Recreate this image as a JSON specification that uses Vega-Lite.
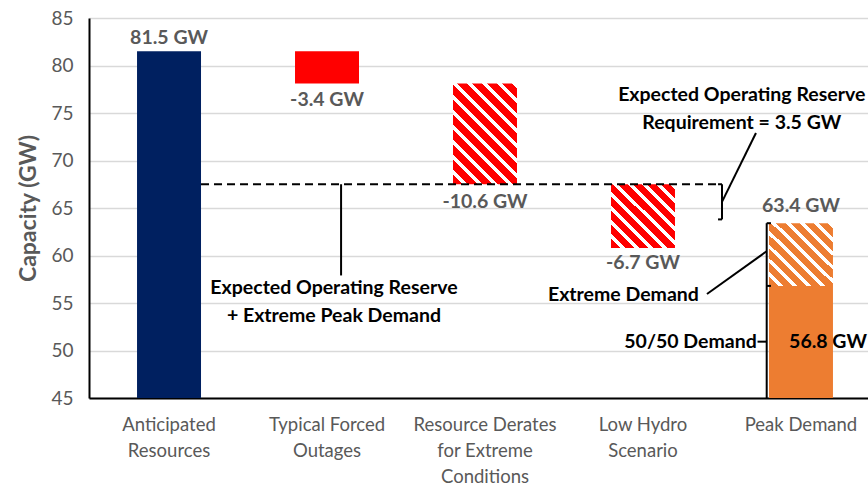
{
  "$schema": "https://vega.github.io/schema/vega-lite/v6.json",
  "width": 779,
  "height": 380,
  "autosize": {"type": "none"},
  "padding": {"left": 89, "top": 18, "right": 0, "bottom": 89},
  "background": "white",
  "config": {
    "view": {"stroke": null},
    "font": "Lato",
    "axis": {"labelFont": "Lato", "titleFont": "Lato"}
  },
  "datasets": {
    "bars": [
      {"cat": "Anticipated Resources", "series": "Anticipated resources", "lo": 45, "hi": 81.5},
      {"cat": "Typical Forced Outages", "series": "Typical forced outages", "lo": 78.1, "hi": 81.5},
      {"cat": "Resource Derates for Extreme Conditions", "series": "Resource derates", "lo": 67.5, "hi": 78.1},
      {"cat": "Low Hydro Scenario", "series": "Low hydro", "lo": 60.8, "hi": 67.5},
      {"cat": "Peak Demand", "series": "50/50 demand", "lo": 45, "hi": 56.8},
      {"cat": "Peak Demand", "series": "Extreme demand", "lo": 56.8, "hi": 63.4}
    ],
    "rules": [
      {"line": "dashed", "u": 0.2025, "u2": 3.475, "y": 67.5, "y2": 67.5},
      {"line": "solid", "u": 1.089, "u2": 1.089, "y": 67.5, "y2": 57.9},
      {"line": "solid", "u": 3.5, "u2": 3.5, "y": 67.5, "y2": 63.8},
      {"line": "solid", "u": 3.475, "u2": 3.5, "y": 67.5, "y2": 67.5},
      {"line": "solid", "u": 3.475, "u2": 3.5, "y": 63.8, "y2": 63.8},
      {"line": "solid", "u": 3.5, "u2": 3.715, "y": 65.65, "y2": 72.9},
      {"line": "solid", "u": 3.783, "u2": 3.783, "y": 45, "y2": 63.4},
      {"line": "solid", "u": 3.783, "u2": 3.81, "y": 63.4, "y2": 63.4},
      {"line": "solid", "u": 3.783, "u2": 3.81, "y": 56.8, "y2": 56.8},
      {"line": "solid", "u": 3.405, "u2": 3.783, "y": 55.95, "y2": 60.45},
      {"line": "solid", "u": 3.725, "u2": 3.783, "y": 50.93, "y2": 50.93}
    ],
    "texts": [
      {"kind": "value", "text": "81.5 GW", "u": 0, "y": 82.86},
      {"kind": "value", "text": "-3.4 GW", "u": 1, "y": 76.37},
      {"kind": "value", "text": "-10.6 GW", "u": 2, "y": 65.66},
      {"kind": "value", "text": "-6.7 GW", "u": 3, "y": 59.18},
      {"kind": "value", "text": "63.4 GW", "u": 4, "y": 65.2},
      {"kind": "callout", "text": "Expected Operating Reserve\n+ Extreme Peak Demand", "u": 1.044, "y": 56.55},
      {"kind": "callout", "text": "Expected Operating Reserve\nRequirement = 3.5 GW", "u": 3.625, "y": 76.9},
      {"kind": "callout", "text": "56.8 GW", "u": 4.171, "y": 50.93},
      {"kind": "right", "text": "Extreme Demand", "u": 3.354, "y": 55.84},
      {"kind": "right", "text": "50/50 Demand", "u": 3.72, "y": 50.93}
    ]
  },
  "layer": [
    {
      "data": {"name": "bars"},
      "encoding": {
        "x": {
          "field": "cat",
          "type": "nominal",
          "title": null,
          "scale": {
            "domain": ["Anticipated Resources", "Typical Forced Outages", "Resource Derates for Extreme Conditions", "Low Hydro Scenario", "Peak Demand"],
            "range": [0, 792],
            "paddingInner": 0.595,
            "paddingOuter": 0.304
          },
          "axis": {
            "labelAngle": 0,
            "labelColor": "#595959",
            "labelFontSize": 18.5,
            "labelLineHeight": 26,
            "labelPadding": 17,
            "labelLimit": 300,
            "ticks": false,
            "domainColor": "#000000",
            "domainWidth": 2,
            "labelExpr": "datum.value == 'Anticipated Resources' ? ['Anticipated','Resources'] : datum.value == 'Typical Forced Outages' ? ['Typical Forced','Outages'] : datum.value == 'Resource Derates for Extreme Conditions' ? ['Resource Derates','for Extreme','Conditions'] : datum.value == 'Low Hydro Scenario' ? ['Low Hydro','Scenario'] : datum.label"
          }
        },
        "y": {
          "field": "lo",
          "type": "quantitative",
          "title": "Capacity (GW)",
          "scale": {"domain": [45, 85], "nice": false, "zero": false},
          "axis": {
            "values": [45, 50, 55, 60, 65, 70, 75, 80, 85],
            "ticks": false,
            "grid": true,
            "gridColor": "#d9d9d9",
            "gridWidth": 1.5,
            "domainColor": "#000000",
            "domainWidth": 2,
            "labelColor": "#595959",
            "labelFontSize": 19,
            "labelPadding": 16,
            "titleColor": "#595959",
            "titleFontSize": 23,
            "titleFontWeight": "bold",
            "titlePadding": 10
          }
        },
        "y2": {"field": "hi"}
      },
      "layer": [
        {
          "transform": [{"filter": "datum.series == 'Anticipated resources' || datum.series == 'Typical forced outages' || datum.series == '50/50 demand'"}],
          "mark": {"type": "bar"},
          "encoding": {
            "color": {
              "field": "series",
              "type": "nominal",
              "legend": null,
              "scale": {"domain": ["Anticipated resources", "Typical forced outages", "50/50 demand"], "range": ["#002060", "#ff0000", "#ed7d31"]}
            }
          }
        },
        {
          "transform": [{"filter": "datum.series == 'Resource derates'"}],
          "mark": {
            "type": "bar",
            "fill": {
              "gradient": "linear", "x1": 0, "y1": 1, "x2": 0.7405, "y2": -0.165,
              "stops": [
                {"offset": 0, "color": "#ff0000"}, {"offset": 0.0591, "color": "#ff0000"}, {"offset": 0.0591, "color": "#ffffff"}, {"offset": 0.0909, "color": "#ffffff"},
                {"offset": 0.0909, "color": "#ff0000"}, {"offset": 0.15, "color": "#ff0000"}, {"offset": 0.15, "color": "#ffffff"}, {"offset": 0.1818, "color": "#ffffff"},
                {"offset": 0.1818, "color": "#ff0000"}, {"offset": 0.2409, "color": "#ff0000"}, {"offset": 0.2409, "color": "#ffffff"}, {"offset": 0.2727, "color": "#ffffff"},
                {"offset": 0.2727, "color": "#ff0000"}, {"offset": 0.3318, "color": "#ff0000"}, {"offset": 0.3318, "color": "#ffffff"}, {"offset": 0.3636, "color": "#ffffff"},
                {"offset": 0.3636, "color": "#ff0000"}, {"offset": 0.4227, "color": "#ff0000"}, {"offset": 0.4227, "color": "#ffffff"}, {"offset": 0.4545, "color": "#ffffff"},
                {"offset": 0.4545, "color": "#ff0000"}, {"offset": 0.5136, "color": "#ff0000"}, {"offset": 0.5136, "color": "#ffffff"}, {"offset": 0.5455, "color": "#ffffff"},
                {"offset": 0.5455, "color": "#ff0000"}, {"offset": 0.6045, "color": "#ff0000"}, {"offset": 0.6045, "color": "#ffffff"}, {"offset": 0.6364, "color": "#ffffff"},
                {"offset": 0.6364, "color": "#ff0000"}, {"offset": 0.6955, "color": "#ff0000"}, {"offset": 0.6955, "color": "#ffffff"}, {"offset": 0.7273, "color": "#ffffff"},
                {"offset": 0.7273, "color": "#ff0000"}, {"offset": 0.7864, "color": "#ff0000"}, {"offset": 0.7864, "color": "#ffffff"}, {"offset": 0.8182, "color": "#ffffff"},
                {"offset": 0.8182, "color": "#ff0000"}, {"offset": 0.8773, "color": "#ff0000"}, {"offset": 0.8773, "color": "#ffffff"}, {"offset": 0.9091, "color": "#ffffff"},
                {"offset": 0.9091, "color": "#ff0000"}, {"offset": 0.9682, "color": "#ff0000"}, {"offset": 0.9682, "color": "#ffffff"}, {"offset": 1, "color": "#ffffff"}
              ]
            }
          }
        },
        {
          "transform": [{"filter": "datum.series == 'Low hydro'"}],
          "mark": {
            "type": "bar",
            "fill": {
              "gradient": "linear", "x1": 0, "y1": 1, "x2": 1, "y2": 0,
              "stops": [
                {"offset": 0, "color": "#ff0000"}, {"offset": 0.0722, "color": "#ff0000"}, {"offset": 0.0722, "color": "#ffffff"}, {"offset": 0.1111, "color": "#ffffff"},
                {"offset": 0.1111, "color": "#ff0000"}, {"offset": 0.1833, "color": "#ff0000"}, {"offset": 0.1833, "color": "#ffffff"}, {"offset": 0.2222, "color": "#ffffff"},
                {"offset": 0.2222, "color": "#ff0000"}, {"offset": 0.2944, "color": "#ff0000"}, {"offset": 0.2944, "color": "#ffffff"}, {"offset": 0.3333, "color": "#ffffff"},
                {"offset": 0.3333, "color": "#ff0000"}, {"offset": 0.4056, "color": "#ff0000"}, {"offset": 0.4056, "color": "#ffffff"}, {"offset": 0.4444, "color": "#ffffff"},
                {"offset": 0.4444, "color": "#ff0000"}, {"offset": 0.5167, "color": "#ff0000"}, {"offset": 0.5167, "color": "#ffffff"}, {"offset": 0.5556, "color": "#ffffff"},
                {"offset": 0.5556, "color": "#ff0000"}, {"offset": 0.6278, "color": "#ff0000"}, {"offset": 0.6278, "color": "#ffffff"}, {"offset": 0.6667, "color": "#ffffff"},
                {"offset": 0.6667, "color": "#ff0000"}, {"offset": 0.7389, "color": "#ff0000"}, {"offset": 0.7389, "color": "#ffffff"}, {"offset": 0.7778, "color": "#ffffff"},
                {"offset": 0.7778, "color": "#ff0000"}, {"offset": 0.85, "color": "#ff0000"}, {"offset": 0.85, "color": "#ffffff"}, {"offset": 0.8889, "color": "#ffffff"},
                {"offset": 0.8889, "color": "#ff0000"}, {"offset": 0.9611, "color": "#ff0000"}, {"offset": 0.9611, "color": "#ffffff"}, {"offset": 1, "color": "#ffffff"}
              ]
            }
          }
        },
        {
          "transform": [{"filter": "datum.series == 'Extreme demand'"}],
          "mark": {
            "type": "bar",
            "fill": {
              "gradient": "linear", "x1": 0, "y1": 1, "x2": 1, "y2": 0,
              "stops": [
                {"offset": 0, "color": "#ed7d31"}, {"offset": 0.0722, "color": "#ed7d31"}, {"offset": 0.0722, "color": "#ffffff"}, {"offset": 0.1111, "color": "#ffffff"},
                {"offset": 0.1111, "color": "#ed7d31"}, {"offset": 0.1833, "color": "#ed7d31"}, {"offset": 0.1833, "color": "#ffffff"}, {"offset": 0.2222, "color": "#ffffff"},
                {"offset": 0.2222, "color": "#ed7d31"}, {"offset": 0.2944, "color": "#ed7d31"}, {"offset": 0.2944, "color": "#ffffff"}, {"offset": 0.3333, "color": "#ffffff"},
                {"offset": 0.3333, "color": "#ed7d31"}, {"offset": 0.4056, "color": "#ed7d31"}, {"offset": 0.4056, "color": "#ffffff"}, {"offset": 0.4444, "color": "#ffffff"},
                {"offset": 0.4444, "color": "#ed7d31"}, {"offset": 0.5167, "color": "#ed7d31"}, {"offset": 0.5167, "color": "#ffffff"}, {"offset": 0.5556, "color": "#ffffff"},
                {"offset": 0.5556, "color": "#ed7d31"}, {"offset": 0.6278, "color": "#ed7d31"}, {"offset": 0.6278, "color": "#ffffff"}, {"offset": 0.6667, "color": "#ffffff"},
                {"offset": 0.6667, "color": "#ed7d31"}, {"offset": 0.7389, "color": "#ed7d31"}, {"offset": 0.7389, "color": "#ffffff"}, {"offset": 0.7778, "color": "#ffffff"},
                {"offset": 0.7778, "color": "#ed7d31"}, {"offset": 0.85, "color": "#ed7d31"}, {"offset": 0.85, "color": "#ffffff"}, {"offset": 0.8889, "color": "#ffffff"},
                {"offset": 0.8889, "color": "#ed7d31"}, {"offset": 0.9611, "color": "#ed7d31"}, {"offset": 0.9611, "color": "#ffffff"}, {"offset": 1, "color": "#ffffff"}
              ]
            }
          }
        }
      ]
    },
    {
      "encoding": {
        "x": {
          "field": "u",
          "type": "quantitative",
          "axis": null,
          "scale": {"domain": [-0.5065, 4.5065], "range": [0, 792], "nice": false, "zero": false}
        },
        "y": {"field": "y", "type": "quantitative", "title": "Capacity (GW)"}
      },
      "layer": [
        {
          "data": {"name": "rules"},
          "transform": [{"filter": "datum.line == 'dashed'"}],
          "mark": {"type": "rule", "color": "#000000", "strokeWidth": 2, "strokeDash": [8, 5]},
          "encoding": {"x2": {"field": "u2"}, "y2": {"field": "y2"}}
        },
        {
          "data": {"name": "rules"},
          "transform": [{"filter": "datum.line == 'solid'"}],
          "mark": {"type": "rule", "color": "#000000", "strokeWidth": 2},
          "encoding": {"x2": {"field": "u2"}, "y2": {"field": "y2"}}
        },
        {
          "data": {"name": "texts"},
          "transform": [{"filter": "datum.kind == 'value'"}],
          "mark": {"type": "text", "font": "Lato", "fontWeight": "bold", "fontSize": 19.5, "color": "#595959", "align": "center", "baseline": "middle"},
          "encoding": {"text": {"field": "text"}}
        },
        {
          "data": {"name": "texts"},
          "transform": [{"filter": "datum.kind == 'callout'"}],
          "mark": {"type": "text", "font": "Lato", "fontWeight": "bold", "fontSize": 19.5, "color": "#000000", "align": "center", "baseline": "middle", "lineBreak": "\n", "lineHeight": 28},
          "encoding": {"text": {"field": "text"}}
        },
        {
          "data": {"name": "texts"},
          "transform": [{"filter": "datum.kind == 'right'"}],
          "mark": {"type": "text", "font": "Lato", "fontWeight": "bold", "fontSize": 19.5, "color": "#000000", "align": "right", "baseline": "middle"},
          "encoding": {"text": {"field": "text"}}
        }
      ]
    }
  ],
  "resolve": {"scale": {"x": "independent"}, "axis": {"x": "independent"}}
}
